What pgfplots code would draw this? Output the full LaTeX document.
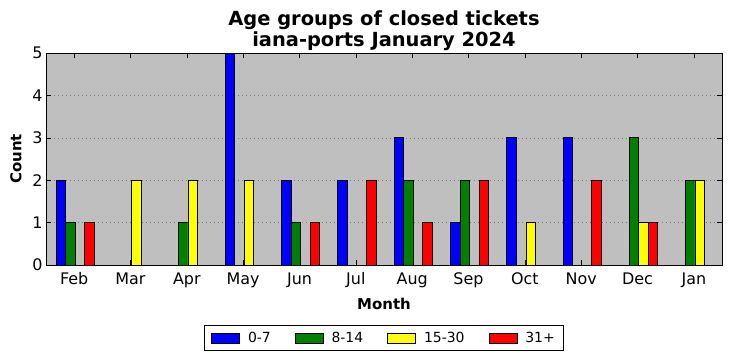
\documentclass[border=0pt]{standalone}
\usepackage{pgfplots}
\pgfplotsset{compat=1.18}
\usepackage{fontspec}
\setmainfont{DejaVu Sans}
\definecolor{bg}{RGB}{191,191,191}
\definecolor{mgreen}{RGB}{0,128,0}
\definecolor{myellow}{RGB}{255,255,0}
\definecolor{gridc}{RGB}{120,120,120}
\pgfplotstableread{
x a b c d
0 2 1 0 1
1 0 0 2 0
2 0 1 2 0
3 5 0 2 0
4 2 1 0 1
5 2 0 0 2
6 3 2 0 1
7 1 2 0 2
8 3 0 1 0
9 3 0 0 2
10 0 3 1 1
11 0 2 2 0
}\data
\begin{document}
\begin{tikzpicture}[x=1bp,y=1bp]
\useasboundingbox (-46,-96) rectangle (686,265);
\begin{axis}[
  at={(0,0)}, anchor=south west,
  width=676bp, height=212bp, scale only axis,
  xmin=-0.5, xmax=11.5, ymin=0, ymax=5,
  xtick={0,...,11},
  xticklabels={Feb,Mar,Apr,May,Jun,Jul,Aug,Sep,Oct,Nov,Dec,Jan},
  ytick={0,...,5},
  axis background/.style={fill=bg},
  axis line style={line width=0.8bp},
  ymajorgrids,
  grid style={dash pattern=on 1bp off 3bp, gridc, line width=0.6bp},
  tick align=inside,
  major tick length=5bp,
  tick style={black, line width=0.6bp},
  ticklabel style={font=\fontsize{16}{18}\selectfont},
  xticklabel style={yshift=-4bp},
  /pgf/number format/assume math mode=true,
  xlabel={Month}, ylabel={Count},
  label style={font=\bfseries\fontsize{15}{17}\selectfont},
  xlabel style={yshift=-3bp},
  ylabel style={yshift=4bp},
  title={Age groups of closed tickets\\iana-ports January 2024},
  title style={align=center, font=\bfseries\fontsize{19.5}{21.5}\selectfont, at={(0.5,1)}, anchor=south, yshift=-6bp, inner sep=2bp},
  legend columns=4,
  legend style={at={(0.5,-0.344)}, anchor=center, draw=black, line width=0.8bp, fill=white,
    font=\fontsize{14}{16}\selectfont, inner xsep=7bp, inner ysep=5bp,
    /tikz/every odd column/.append style={column sep=6bp},
    /tikz/every even column/.append style={column sep=22bp}},
  legend image code/.code={\draw[#1, draw=black, line width=0.8bp] (0bp,-5bp) rectangle (28bp,5bp);},
]
\addplot[ybar, bar width=0.17, bar shift=-0.235, fill=blue, draw=black, line width=0.8bp] table[x=x,y=a] {\data};
\addplot[ybar, bar width=0.17, bar shift=-0.065, fill=mgreen, draw=black, line width=0.8bp] table[x=x,y=b] {\data};
\addplot[ybar, bar width=0.17, bar shift=0.105, fill=myellow, draw=black, line width=0.8bp] table[x=x,y=c] {\data};
\addplot[ybar, bar width=0.17, bar shift=0.275, fill=red, draw=black, line width=0.8bp] table[x=x,y=d] {\data};
\legend{0-7,8-14,15-30,31+}
\end{axis}
\end{tikzpicture}
\end{document}
